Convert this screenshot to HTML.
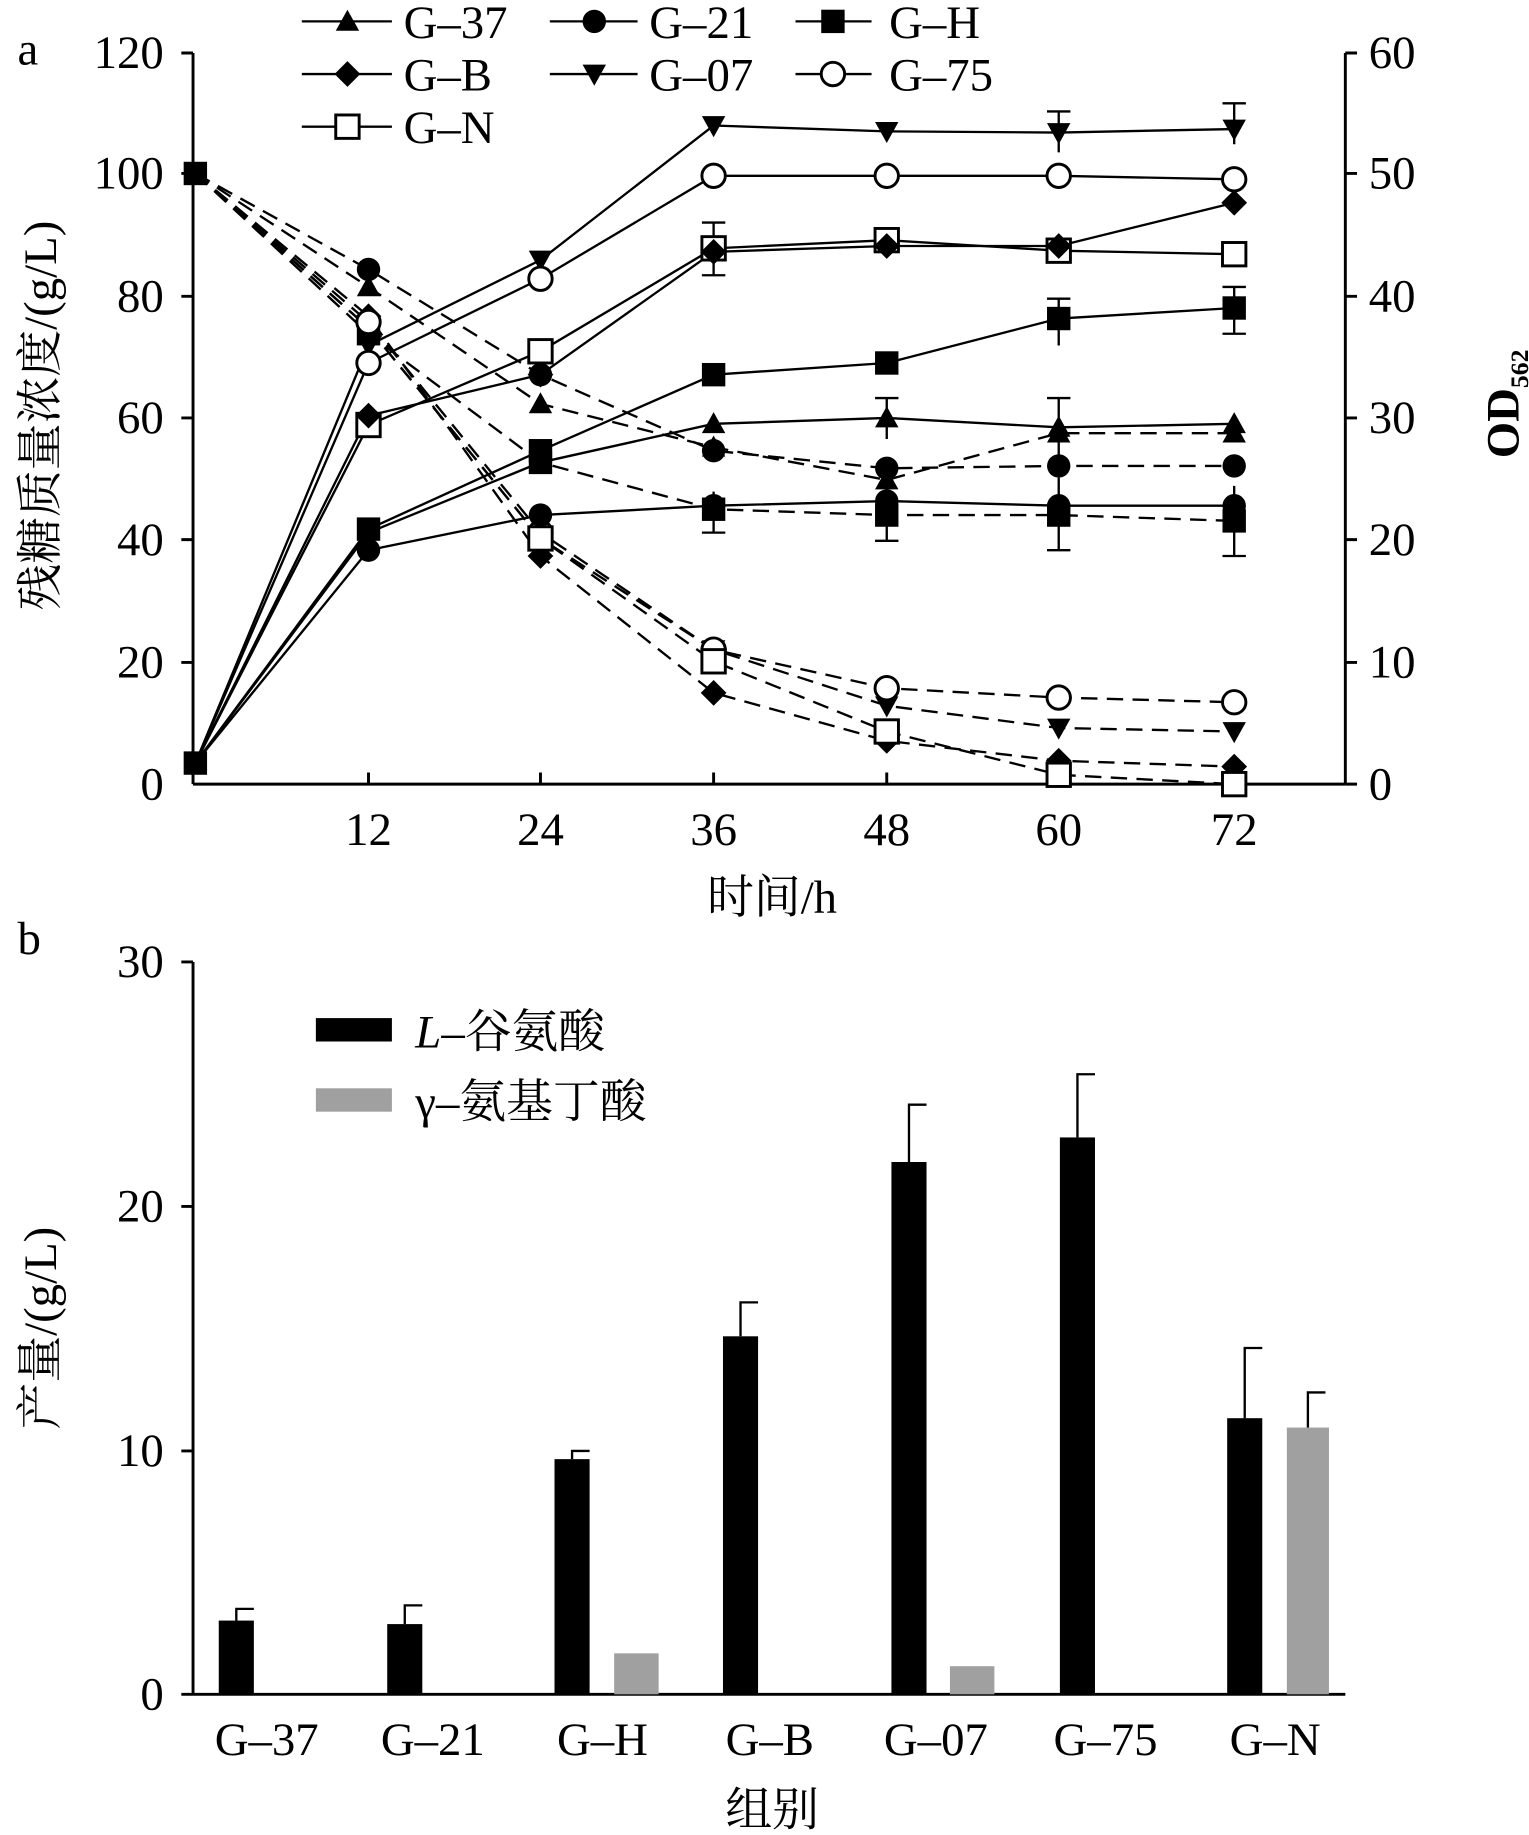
<!DOCTYPE html>
<html><head><meta charset="utf-8"><style>html,body{margin:0;padding:0;background:#fff}svg{display:block}</style></head><body>
<svg width="1529" height="1835" viewBox="0 0 1307 1568" xmlns="http://www.w3.org/2000/svg" font-family="'Liberation Serif','Noto Serif CJK SC',serif" font-size="40">
<defs>
<g id="tu"><polygon points="0,-10 10,8 -10,8" fill="#000"/></g>
<g id="td"><polygon points="0,10 10,-8 -10,-8" fill="#000"/></g>
<g id="ci"><circle r="10" fill="#000"/></g>
<g id="sq"><rect x="-10" y="-10" width="20" height="20" fill="#000"/></g>
<g id="di"><polygon points="0,-11 11,0 0,11 -11,0" fill="#000"/></g>
<g id="oc"><circle r="10" fill="#fff" stroke="#000" stroke-width="2.5"/></g>
<g id="os"><rect x="-10" y="-10" width="20" height="20" fill="#fff" stroke="#000" stroke-width="2.5"/></g>
</defs>
<g stroke="#000" stroke-width="2.5" fill="none">
<line x1="165" y1="45" x2="165" y2="670"/><line x1="1150" y1="45" x2="1150" y2="670"/><line x1="165" y1="670" x2="1150" y2="670"/>
<path d="M165 45h-10M165 148h-10M165 253h-10M165 357h-10M165 461h-10M165 566h-10M1150 45h10M1150 148h10M1150 253h10M1150 357h10M1150 461h10M1150 566h10M1150 670h10M315 670v-10M462 670v-10M610 670v-10M758 670v-10M905 670v-10M1055 670v-10"/>
</g>
<g text-anchor="end">
<text x="140" y="58">120</text><text x="140" y="161">100</text><text x="140" y="266">80</text><text x="140" y="370">60</text><text x="140" y="474">40</text><text x="140" y="579">20</text><text x="140" y="683">0</text>
</g>
<g text-anchor="start">
<text x="1170" y="58">60</text><text x="1170" y="161">50</text><text x="1170" y="266">40</text><text x="1170" y="370">30</text><text x="1170" y="474">20</text><text x="1170" y="579">10</text><text x="1170" y="683">0</text>
</g>
<g text-anchor="middle"><text x="315" y="722">12</text><text x="462" y="722">24</text><text x="610" y="722">36</text><text x="758" y="722">48</text><text x="905" y="722">60</text><text x="1055" y="722">72</text>
<text x="660" y="780">时间/h</text></g>
<text x="15" y="55">a</text>
<text transform="translate(48,355) rotate(-90)" text-anchor="middle">残糖质量浓度/(g/L)</text>
<text transform="translate(1298,345) rotate(-90)" text-anchor="middle" font-weight="bold">OD<tspan font-size="22" dy="8">562</tspan></text>
<g stroke="#000" stroke-width="2" fill="none" stroke-dasharray="14,8">
<polyline points="167,148 315,230 462,320 610,385 758,400 905,398 1055,398"/>
<polyline points="167,148 315,245 462,345 610,382 758,410 905,370 1055,370"/>
<polyline points="167,148 315,285 462,395 610,435 758,440 905,440 1055,445"/>
<polyline points="167,148 315,270 462,475 610,592 758,633 905,650 1055,655"/>
<polyline points="167,148 315,280 462,460 610,555 758,603 905,622 1055,625"/>
<polyline points="167,148 315,275 462,455 610,555 758,588 905,596 1055,600"/>
<polyline points="167,148 315,280 462,460 610,565 758,625 905,662 1055,670"/>
</g>
<g stroke="#000" stroke-width="2" fill="none">
<polyline points="167,652 315,295 462,222 610,107 758,112 905,113 1055,110"/>
<polyline points="167,652 315,310 462,238 610,150 758,150 905,150 1055,153"/>
<polyline points="167,652 315,363 462,300 610,212 758,205 905,214 1055,217"/>
<polyline points="167,652 315,355 462,320 610,215 758,210 905,210 1055,173"/>
<polyline points="167,652 315,452 462,385 610,320 758,310 905,272 1055,263"/>
<polyline points="167,652 315,455 462,395 610,362 758,357 905,365 1055,362"/>
<polyline points="167,652 315,470 462,440 610,432 758,428 905,432 1055,432"/>
<path d="M610 190v45M600 190h20M600 235h20M905 95v35M895 95h20M1055 88v35M1045 88h20M905 255v40M895 255h20M1055 245v40M1045 245h20M1045 285h20M905 340v50M895 340h20M905 408v62M895 470h20M1055 415v60M1045 475h20M758 412v50M748 462h20M610 420v35M600 455h20M758 340v35M748 340h20"/>
</g>
<g>
<use href="#ci" x="315" y="230"/><use href="#ci" x="462" y="320"/><use href="#ci" x="610" y="385"/><use href="#ci" x="758" y="400"/><use href="#ci" x="905" y="398"/><use href="#ci" x="1055" y="398"/>
<use href="#tu" x="315" y="245"/><use href="#tu" x="462" y="345"/><use href="#tu" x="610" y="382"/><use href="#tu" x="758" y="410"/><use href="#tu" x="905" y="370"/><use href="#tu" x="1055" y="370"/>
<use href="#sq" x="315" y="285"/><use href="#sq" x="462" y="395"/><use href="#sq" x="610" y="435"/><use href="#sq" x="758" y="440"/><use href="#sq" x="905" y="440"/><use href="#sq" x="1055" y="445"/>
<use href="#di" x="315" y="270"/><use href="#di" x="462" y="475"/><use href="#di" x="610" y="592"/><use href="#di" x="758" y="633"/><use href="#di" x="905" y="650"/><use href="#di" x="1055" y="655"/>
<use href="#td" x="315" y="280"/><use href="#td" x="462" y="460"/><use href="#td" x="610" y="555"/><use href="#td" x="758" y="603"/><use href="#td" x="905" y="622"/><use href="#td" x="1055" y="625"/>
<use href="#oc" x="315" y="275"/><use href="#oc" x="462" y="455"/><use href="#oc" x="610" y="555"/><use href="#oc" x="758" y="588"/><use href="#oc" x="905" y="596"/><use href="#oc" x="1055" y="600"/>
<use href="#os" x="462" y="460"/><use href="#os" x="610" y="565"/><use href="#os" x="758" y="625"/><use href="#os" x="905" y="662"/><use href="#os" x="1055" y="670"/>
<use href="#sq" x="167" y="148"/>
<use href="#td" x="315" y="295"/><use href="#td" x="462" y="222"/><use href="#td" x="610" y="107"/><use href="#td" x="758" y="112"/><use href="#td" x="905" y="113"/><use href="#td" x="1055" y="110"/>
<use href="#oc" x="315" y="310"/><use href="#oc" x="462" y="238"/><use href="#oc" x="610" y="150"/><use href="#oc" x="758" y="150"/><use href="#oc" x="905" y="150"/><use href="#oc" x="1055" y="153"/>
<use href="#os" x="315" y="363"/><use href="#os" x="462" y="300"/><use href="#os" x="610" y="212"/><use href="#os" x="758" y="205"/><use href="#os" x="905" y="214"/><use href="#os" x="1055" y="217"/>
<use href="#di" x="315" y="355"/><use href="#di" x="462" y="320"/><use href="#di" x="610" y="215"/><use href="#di" x="758" y="210"/><use href="#di" x="905" y="210"/><use href="#di" x="1055" y="173"/>
<use href="#sq" x="315" y="452"/><use href="#sq" x="462" y="385"/><use href="#sq" x="610" y="320"/><use href="#sq" x="758" y="310"/><use href="#sq" x="905" y="272"/><use href="#sq" x="1055" y="263"/>
<use href="#tu" x="462" y="395"/><use href="#tu" x="610" y="362"/><use href="#tu" x="758" y="357"/><use href="#tu" x="905" y="365"/><use href="#tu" x="1055" y="362"/>
<use href="#ci" x="315" y="470"/><use href="#ci" x="462" y="440"/><use href="#ci" x="610" y="432"/><use href="#ci" x="758" y="428"/><use href="#ci" x="905" y="432"/><use href="#ci" x="1055" y="432"/>
<use href="#sq" x="167" y="652"/>
</g>
<g stroke="#000" stroke-width="2"><path d="M258 18h77M470 18h75M680 18h65M258 63h77M470 63h75M680 63h65M258 108h77"/></g>
<use href="#tu" x="297" y="18"/><use href="#ci" x="508" y="18"/><use href="#sq" x="712" y="18"/>
<use href="#di" x="297" y="63"/><use href="#td" x="508" y="63"/><use href="#oc" x="712" y="63"/><use href="#os" x="297" y="108"/>
<text x="345" y="32">G–37</text><text x="555" y="32">G–21</text><text x="760" y="32">G–H</text>
<text x="345" y="77">G–B</text><text x="555" y="77">G–07</text><text x="760" y="77">G–75</text><text x="345" y="122">G–N</text>
<text x="15" y="815">b</text>
<g stroke="#000" stroke-width="2.5" fill="none">
<line x1="165" y1="822" x2="165" y2="1448"/><line x1="165" y1="1448" x2="1150" y2="1448"/>
<path d="M165 822h-10M165 1031h-10M165 1240h-10M165 1448h-10"/>
</g>
<g text-anchor="end"><text x="140" y="835">30</text><text x="140" y="1044">20</text><text x="140" y="1253">10</text><text x="140" y="1461">0</text></g>
<g text-anchor="middle"><text x="228" y="1500">G–37</text><text x="370" y="1500">G–21</text><text x="515" y="1500">G–H</text><text x="658" y="1500">G–B</text><text x="800" y="1500">G–07</text><text x="945" y="1500">G–75</text><text x="1090" y="1500">G–N</text>
<text x="660" y="1560">组别</text></g>
<text transform="translate(48,1135) rotate(-90)" text-anchor="middle">产量/(g/L)</text>
<g fill="#000">
<rect x="187" y="1385" width="30" height="63"/><rect x="331" y="1388" width="30" height="60"/><rect x="474" y="1247" width="30" height="201"/><rect x="618" y="1142" width="30" height="306"/><rect x="762" y="993" width="30" height="455"/><rect x="906" y="972" width="30" height="476"/><rect x="1049" y="1212" width="30" height="236"/>
</g>
<g fill="#a0a0a0"><rect x="525" y="1413" width="38" height="35"/><rect x="812" y="1424" width="38" height="24"/><rect x="1100" y="1220" width="36" height="228"/></g>
<g stroke="#000" stroke-width="2" fill="none"><path d="M202 1385v-10h15M346 1388v-16h15M489 1247v-7h15M633 1142v-29h15M777 993v-49h15M921 972v-54h15M1064 1212v-60h15M1118 1220v-30h15"/></g>
<rect x="270" y="870" width="65" height="20" fill="#000"/><rect x="270" y="930" width="65" height="20" fill="#a0a0a0"/>
<text x="355" y="895"><tspan font-style="italic">L</tspan>–谷氨酸</text><text x="355" y="955">γ–氨基丁酸</text>
</svg>
</body></html>
